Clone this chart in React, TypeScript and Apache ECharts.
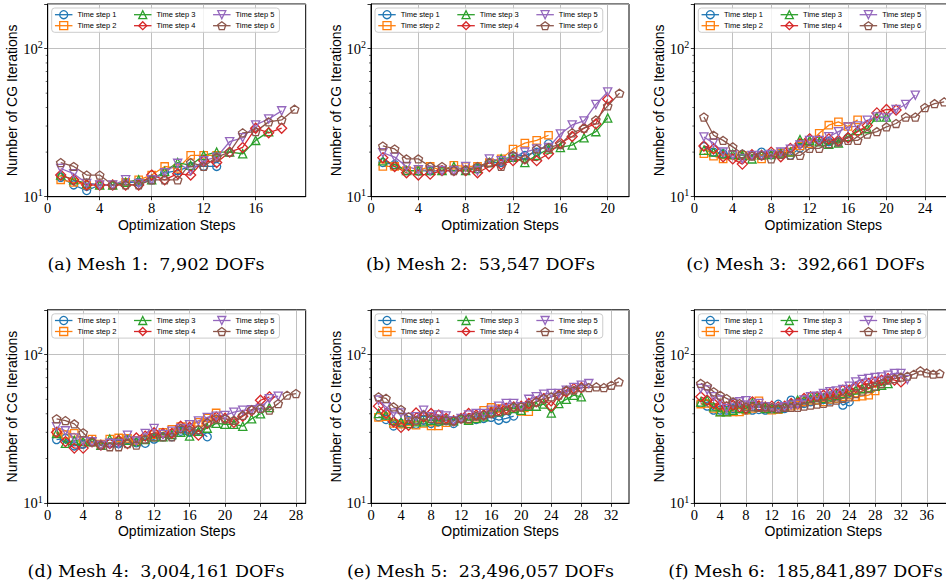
import React, { useEffect, useRef } from "react";
import * as echarts from "echarts";

// ---------- data ----------
const seriesNames = ["Time step 1", "Time step 2", "Time step 3", "Time step 4", "Time step 5", "Time step 6"];
const seriesColors = ["#1f77b4", "#ff7f0e", "#2ca02c", "#d62728", "#9467bd", "#8c564b"];

const captions = [
  "(a) Mesh 1:  7,902 DOFs",
  "(b) Mesh 2:  53,547 DOFs",
  "(c) Mesh 3:  392,661 DOFs",
  "(d) Mesh 4:  3,004,161 DOFs",
  "(e) Mesh 5:  23,496,057 DOFs",
  "(f) Mesh 6:  185,841,897 DOFs",
];

const xTicksA = [0, 4, 8, 12, 16];
const xTicksB = [0, 4, 8, 12, 16, 20];
const xTicksC = [0, 4, 8, 12, 16, 20, 24];
const xTicksD = [0, 4, 8, 12, 16, 20, 24, 28];
const xTicksE = [0, 4, 8, 12, 16, 20, 24, 28, 32];
const xTicksF = [0, 4, 8, 12, 16, 20, 24, 28, 32, 36];
const xMaxes = [19.85, 21.8, 26.85, 29.1, 34.35, 39.95];
const yMinorTicks = [20, 30, 40, 50, 60, 70, 80, 90];

// values start at optimization step 1
const mesh1: number[][] = [
  [13.5, 12, 11, 12, 12, 12.5, 12.5, 13, 14.5, 15, 16, 16, 16],
  [13, 12.5, 12, 12, 12, 12.5, 13, 14, 16, 15.5, 19, 19, 19],
  [14, 13, 12.3, 12, 12, 12.5, 13, 13, 14.8, 17, 16.3, 19, 20, 20, 19.5, 24, 27.5],
  [14, 13, 12, 12, 12, 12, 12, 14, 13, 14.3, 14, 17.5, 17, 20, 21.5, 29, 27, 29],
  [15.5, 14.3, 12.3, 12, 12, 13, 12.3, 13, 14.5, 16.8, 15, 17.5, 18.5, 23.5, 25, 30.5, 33.5, 38],
  [17, 16, 14, 14, 12, 12, 12, 13, 13, 13, 17, 16, 18.5, 20, 27, 27.5, 32, 33, 39],
];
const mesh2: number[][] = [
  [17, 16.5, 15, 15, 15, 15, 15, 15, 15.5, 17, 17, 18.8, 19, 20, 22.8],
  [16, 16, 15, 15, 16, 15, 16.3, 16, 16, 17, 18, 21, 23, 24, 26],
  [17.5, 16.5, 15, 15, 15, 15, 16, 15, 15.5, 17, 18, 18.5, 17, 19, 21, 21.5, 22.3, 25, 27.5, 34],
  [18.3, 16, 14.5, 14, 14.2, 15, 15, 15, 14.5, 16, 16.5, 17.5, 18, 17.5, 19.5, 23, 25.5, 29, 31, 45.5],
  [19.8, 18.5, 16, 15.2, 15, 15, 15, 16, 15, 18, 17.5, 18.5, 20, 21, 21.5, 26.5, 30.5, 32.5, 42, 51],
  [22, 21, 18, 18, 16, 16, 15, 15.2, 16, 17, 16, 19, 18, 21, 21.5, 22.5, 27, 29, 33, 41, 50],
];
const mesh3: number[][] = [
  [21.8, 20, 19.5, 19.3, 19.3, 19, 20, 19.3, 19.7, 19, 21.3, 22.8, 24, 23.5, 23.5, 25],
  [19.5, 18.8, 18, 19.1, 19, 19, 18, 19.3, 19.7, 20, 22, 22.8, 26.8, 30.4, 32, 29.8, 33],
  [20.6, 20, 19.5, 19.3, 19, 18, 19.2, 19.3, 19.7, 20, 24.3, 24, 23.5, 22.6, 23, 25.5, 28, 28.8, 34.5, 34.5],
  [22, 21, 18.6, 18, 16.6, 19.2, 19, 20, 18.6, 21.2, 22.8, 24.6, 24, 24.6, 24, 25, 27.5, 30.2, 36.8, 38.8, 38.5],
  [25.3, 23, 20, 19.1, 18, 19, 19, 19.3, 20, 20.9, 22.3, 24, 24, 25.4, 27.5, 29.5, 30, 32.8, 34.5, 34, 38.8, 41.9, 48.5],
  [34.5, 26, 24, 21.7, 19.5, 18.8, 19, 18, 19.3, 19, 19, 21.2, 21.2, 22.8, 23.4, 24, 24, 26.5, 27.5, 29.6, 31.2, 34.5, 34.5, 40, 42.5, 43.7],
];
const mesh4: number[][] = [
  [26.8, 27.3, 24.3, 25, 25.9, 24.6, 25.2, 25.2, 27, 25.5, 25.3, 27, 28, 28, 30.5, 30, 31, 28],
  [30, 29, 29.5, 26.5, 27, 25, 27, 27.5, 27.3, 26.5, 26.8, 29, 30, 31.4, 32.8, 34, 35, 37.5, 40.5],
  [29.5, 25.3, 26.5, 26, 25.9, 24.6, 27, 27, 26.5, 26, 26.8, 28, 28, 29, 30, 28.3, 30.5, 32, 34.5, 34, 34, 33, 37, 40, 44],
  [30, 26, 23.5, 23.5, 25.9, 24.6, 25.2, 26.5, 25.2, 27.5, 28.3, 29.8, 29.5, 29.5, 33, 32.5, 28.7, 34.5, 38, 37.3, 35, 38.5, 42, 49.3, 52],
  [32.7, 30.7, 27.5, 26.2, 25.9, 24.6, 25.3, 25.2, 28.7, 26.2, 29.5, 31.8, 29, 30.5, 31.8, 33.8, 35.8, 37.8, 38.5, 39, 41, 42.2, 42.5, 43.4, 50.5, 52.5],
  [37, 36, 34.2, 29.8, 25.9, 24.6, 24, 24, 25.2, 24.6, 27, 28, 28, 28, 31.8, 31.2, 31.3, 34.8, 37, 37, 36.2, 39, 42.6, 43.5, 42.3, 46.8, 53.3, 54.7],
];
const mesh5: number[][] = [
  [38.2, 36.6, 33.1, 34.4, 35.9, 34, 36.2, 34.4, 35.3, 35.9, 34.4, 37.2, 36.6, 36.6, 37.2, 37.8, 36.2, 37.2, 38.6],
  [37.8, 38.2, 34.4, 34, 35.3, 33.5, 34.4, 33.1, 33.1, 34.8, 35.9, 37.2, 36.2, 37.2, 42.2, 44.1, 43.4, 42.2, 43.4, 41.5, 41.3],
  [40.2, 39.2, 36.2, 35.3, 34.4, 35.3, 35.3, 36.2, 35.9, 36.6, 35.9, 37.2, 36.2, 37.2, 38.2, 41.3, 41.3, 42.2, 43.4, 42.2, 45, 45, 46.5, 40.5, 46.9, 50, 53.3, 52],
  [45, 40.2, 35.3, 32.4, 33.5, 40.5, 38.2, 40.2, 39.2, 37.2, 35.9, 37.2, 40.2, 39.2, 39.2, 40.5, 42.2, 43.4, 44.5, 45, 46.9, 48.1, 50.6, 45, 53.3, 56.2, 59, 60],
  [49.4, 44.5, 40.5, 40.5, 37.8, 38.2, 42.2, 38.2, 39.2, 38.6, 35.9, 37.2, 39.2, 40.2, 40.2, 42.2, 45, 46.9, 46.9, 44.5, 50, 52, 54.2, 54.8, 54.8, 57.6, 60, 62.2, 63.8],
  [52, 50.8, 44.5, 42.7, 38.2, 36.2, 39.2, 37.2, 36.6, 36.2, 35.9, 37.2, 37.2, 38.6, 39.2, 40.2, 41.3, 42.2, 44.5, 44.5, 45.7, 48.1, 50.6, 52, 53.3, 57.6, 57.6, 60, 60, 60.7, 60, 62.2, 65.6],
];
const mesh6: number[][] = [
  [47, 45, 42.3, 42.3, 42.3, 43.4, 43.4, 42.3, 42.3, 42.7, 42.3, 43.4, 46.4, 43.4, 49.4, 46.9, 46.9, 48.1, 49.4, 49.9, 49.4, 50.7, 45.7, 48.1],
  [46.5, 46.9, 43.4, 41.2, 41.2, 41.2, 41.2, 42.3, 43.4, 48.9, 43.4, 42.3, 42.7, 44.1, 45, 45.7, 48.1, 49.4, 49.4, 48.1, 49.9, 50.7, 52, 53.3, 52, 52.5, 53.3, 57],
  [48, 49.4, 44.5, 41.2, 41.2, 42.3, 43.4, 43.4, 47.4, 44.5, 43.4, 43.4, 43.4, 44.5, 46.9, 49.4, 49.4, 50.7, 51.4, 50.7, 52, 53.3, 54.7, 56.2, 57.8, 59, 59.8, 61.3, 62.3, 63.9],
  [52, 49.4, 46.9, 45.7, 44.5, 45.7, 44.5, 43.4, 48.1, 45, 44.5, 45, 44.5, 45, 46.9, 46.9, 50.7, 52, 52, 53.3, 54.5, 54.5, 57.6, 57.6, 60, 62.3, 63.9, 65.5, 67.3, 69, 67.3, 65.5],
  [59.1, 57.8, 52, 49.4, 43.4, 46.9, 48.1, 48.9, 45.7, 46.9, 44.5, 43.4, 43.4, 44.5, 45.7, 46.4, 49.4, 52, 52.5, 54.7, 56.2, 57, 58.2, 61.3, 65.5, 68, 69, 70.1, 70.8, 72.7, 74.6, 74.6, 68],
  [64, 61.5, 56.2, 53.3, 50.7, 48.1, 46.9, 44.5, 44.5, 44.1, 44.5, 44.1, 43.4, 44.1, 44.1, 44.1, 45, 45.7, 46.4, 46.9, 48.1, 49.4, 50.7, 52, 54.7, 56.8, 59.1, 61.3, 63.9, 67.3, 69, 70.5, 71.5, 73.8, 77.7, 75.3, 73.8, 74.6],
];

const meshes = [mesh1, mesh2, mesh3, mesh4, mesh5, mesh6];
const xTicksAll = [xTicksA, xTicksB, xTicksC, xTicksD, xTicksE, xTicksF];

// ---------- styling / layout ----------
const SYMBOLS = [
  "circle",
  "rect",
  "triangle",
  "diamond",
  "path://M0,0L2,0L1,1.8Z",
  "path://M0,-1L0.951,-0.309L0.588,0.809L-0.588,0.809L-0.951,-0.309Z",
];
const SYMBOL_SIZES: any[] = [8, 7.4, 8.2, 10, 8.2, [8.4, 8]];

const COL_LEFT = [47.7, 371, 694.3];
const ROW_TOP = [4, 309.8];
const ROW_H = [192.7, 193.5];
const GRID_W = 258;
const CAP_X = [156, 480.5, 805.5];
const CAP_Y = [264, 571];

const SERIF = "'Liberation Serif', 'Times New Roman', serif";
const SANS = "'Liberation Sans', Arial, sans-serif";
const LINE_W = 1.3;
const EDGE_W = 1.3;

function buildOption() {
  const grid: any[] = [];
  const xAxis: any[] = [];
  const yAxis: any[] = [];
  const series: any[] = [];
  const legend: any[] = [];
  const graphic: any[] = [];

  meshes.forEach((mesh, i) => {
    const col = i % 3;
    const row = Math.floor(i / 3);
    const L = COL_LEFT[col];
    const T = ROW_TOP[row];
    const H = ROW_H[row];

    grid.push({
      left: L,
      top: T,
      width: GRID_W,
      height: H,
      show: true,
      borderColor: "#000",
      borderWidth: 1,
      backgroundColor: "transparent",
      containLabel: false,
      outerBoundsMode: "none",
    });

    xAxis.push({
      type: "value",
      gridIndex: i,
      min: 0,
      max: xMaxes[i],
      interval: 4,
      name: "Optimization Steps",
      nameLocation: "middle",
      nameGap: 21,
      nameTextStyle: { fontFamily: SANS, fontSize: 14, color: "#000" },
      axisLine: { show: true, onZero: false, lineStyle: { color: "#000", width: 1 } },
      axisTick: { show: true, length: 3.5, customValues: xTicksAll[i], lineStyle: { color: "#000", width: 0.8 } },
      axisLabel: {
        show: true,
        customValues: xTicksAll[i],
        color: "#000",
        fontFamily: SERIF,
        fontSize: 14.5,
        margin: 4,
      },
      splitLine: { show: true, lineStyle: { color: "#b0b0b0", width: 0.8 } },
    });

    yAxis.push({
      type: "log",
      logBase: 10,
      gridIndex: i,
      min: 10,
      max: 200,
      name: "Number of CG Iterations",
      nameLocation: "middle",
      nameGap: 27,
      nameTextStyle: { fontFamily: SANS, fontSize: 14, color: "#000" },
      axisLine: { show: true, lineStyle: { color: "#000", width: 1 } },
      axisTick: { show: true, length: 3.5, lineStyle: { color: "#000", width: 0.8 } },
      axisLabel: {
        show: true,
        margin: 5,
        formatter: (v: number) => {
          const e = Math.round(Math.log10(v));
          if (Math.abs(v - Math.pow(10, e)) > 1e-6 * v) return "";
          return "{b|10}{s|" + e + "}";
        },
        rich: {
          b: { fontFamily: SERIF, fontSize: 14.5, lineHeight: 18, color: "#000" },
          s: { fontFamily: SERIF, fontSize: 10, lineHeight: 10, verticalAlign: "top", color: "#000" },
        },
      },
      splitLine: { show: true, lineStyle: { color: "#b0b0b0", width: 0.8 } },
    });

    // minor log ticks drawn through the axis scale
    series.push({
      type: "custom",
      name: "minor-" + i,
      xAxisIndex: i,
      yAxisIndex: i,
      silent: true,
      clip: false,
      data: yMinorTicks.map((v) => [0, v]),
      renderItem: (params: any, api: any) => {
        const p = api.coord([0, api.value(1)]);
        return {
          type: "line",
          shape: { x1: p[0] - 2, y1: p[1], x2: p[0], y2: p[1] },
          style: { stroke: "#000", lineWidth: 0.6 },
        };
      },
      z: 3,
    });

    mesh.forEach((vals, s) => {
      series.push({
        type: "line",
        name: seriesNames[s],
        xAxisIndex: i,
        yAxisIndex: i,
        data: vals.map((v, k) => [k + 1, v]),
        symbol: SYMBOLS[s],
        symbolSize: SYMBOL_SIZES[s],
        showSymbol: true,
        lineStyle: { color: seriesColors[s], width: LINE_W },
        itemStyle: { color: "rgba(0,0,0,0)", borderColor: seriesColors[s], borderWidth: EDGE_W },
        emphasis: { disabled: true },
        z: 4,
      });
    });

    const item = (s: number, tw?: number) => ({
      name: seriesNames[s],
      itemStyle: { color: "rgba(0,0,0,0)", borderColor: seriesColors[s], borderWidth: EDGE_W },
      lineStyle: { color: seriesColors[s], width: LINE_W },
      textStyle: tw ? { width: tw } : {},
    });

    legend.push({
      orient: "vertical",
      left: L + 4,
      top: T + 4,
      padding: [1.7, 5, 1.6, 2.6],
      itemGap: 1,
      itemWidth: 17.5,
      itemHeight: 10,
      backgroundColor: "rgba(255,255,255,0.8)",
      borderColor: "#cccccc",
      borderWidth: 1,
      borderRadius: 3,
      selectedMode: false,
      textStyle: { fontFamily: SANS, fontSize: 7.5, lineHeight: 10, color: "#000" },
      data: [item(0, 54.9), item(1, 54.9), "", item(2, 54.9), item(3, 54.9), "\n", item(4), item(5)],
      z: 10,
    });

    graphic.push({
      type: "text",
      x: CAP_X[col],
      y: CAP_Y[row],
      style: {
        text: captions[i],
        fontFamily: "'DejaVu Serif', serif",
        fontSize: 17.5,
        fill: "#000",
        align: "center",
        verticalAlign: "middle",
      },
    });
  });

  return {
    animation: false,
    backgroundColor: "#ffffff",
    tooltip: { show: false },
    grid,
    xAxis,
    yAxis,
    series,
    legend,
    graphic,
  };
}

export default function App() {
  const ref = useRef<HTMLDivElement>(null);
  useEffect(() => {
    if (!ref.current) return;
    const chart = echarts.init(ref.current, undefined, { renderer: "svg" });
    chart.setOption(buildOption() as any);
    return () => chart.dispose();
  }, []);
  return (
    <div
      style={{
        position: "fixed",
        left: 0,
        top: 0,
        width: 946,
        height: 584,
        overflow: "hidden",
        background: "#fff",
      }}
    >
      <div ref={ref} style={{ width: 960, height: 584 }} />
    </div>
  );
}
